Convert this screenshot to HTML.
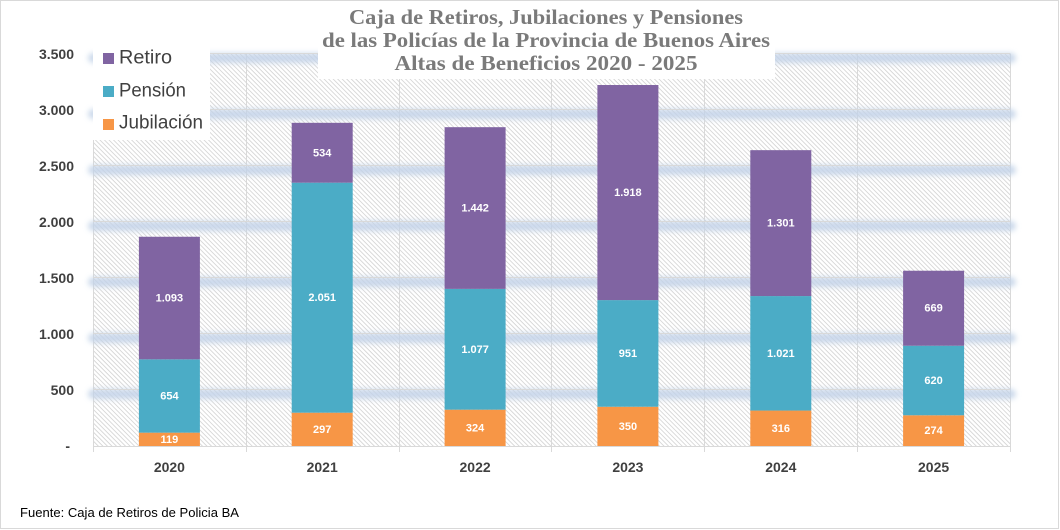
<!DOCTYPE html>
<html><head><meta charset="utf-8"><style>
html,body{margin:0;padding:0;background:#fff;}
svg{display:block;}
</style></head><body>
<svg width="1060" height="530" viewBox="0 0 1060 530" xmlns="http://www.w3.org/2000/svg">
<defs>
<pattern id="hatch" patternUnits="userSpaceOnUse" width="3.2" height="3.2" patternTransform="rotate(-45)">
<rect width="3.2" height="3.2" fill="#fff"/>
<line x1="0.5" y1="0" x2="0.5" y2="3.2" stroke="#d2d2d2" stroke-width="0.8"/>
</pattern>
<filter id="blur" x="-5%" y="-200%" width="110%" height="500%"><feGaussianBlur stdDeviation="2.6"/></filter>
</defs>
<rect x="0" y="0" width="1060" height="530" fill="#fff"/>
<rect x="0.5" y="0.5" width="1058" height="528" fill="none" stroke="#d9d9d9" stroke-width="1"/>
<!-- plot area hatch -->
<rect x="93" y="53.5" width="917" height="392.5" fill="url(#hatch)"/>
<!-- vertical gridlines -->
<g stroke="#d9d9d9" stroke-width="1">
<line x1="93.5" y1="53.5" x2="93.5" y2="452"/>
<line x1="246.5" y1="53.5" x2="246.5" y2="452"/>
<line x1="399.5" y1="53.5" x2="399.5" y2="452"/>
<line x1="551.5" y1="53.5" x2="551.5" y2="452"/>
<line x1="704.5" y1="53.5" x2="704.5" y2="452"/>
<line x1="857.5" y1="53.5" x2="857.5" y2="452"/>
<line x1="1010.5" y1="53.5" x2="1010.5" y2="452"/>
</g>
<!-- glows -->
<g fill="#c3d3e8" filter="url(#blur)" opacity="0.85">
<rect x="88" y="53" width="928" height="10" rx="5"/>
<rect x="88" y="109" width="928" height="10" rx="5"/>
<rect x="88" y="165" width="928" height="10" rx="5"/>
<rect x="88" y="221" width="928" height="10" rx="5"/>
<rect x="88" y="277" width="928" height="10" rx="5"/>
<rect x="88" y="333" width="928" height="10" rx="5"/>
<rect x="88" y="389" width="928" height="10" rx="5"/>
</g>
<g stroke="#d9d9d9" stroke-width="1">
<line x1="93" y1="53.5" x2="1010" y2="53.5"/>
<line x1="93" y1="109.5" x2="1010" y2="109.5"/>
<line x1="93" y1="165.5" x2="1010" y2="165.5"/>
<line x1="93" y1="221.5" x2="1010" y2="221.5"/>
<line x1="93" y1="277.5" x2="1010" y2="277.5"/>
<line x1="93" y1="333.5" x2="1010" y2="333.5"/>
<line x1="93" y1="389.5" x2="1010" y2="389.5"/>
<line x1="93" y1="446.5" x2="1010" y2="446.5"/>
</g>
<!-- bars -->
<g>
<rect x="138.9" y="432.66" width="61" height="13.34" fill="#F79646"/>
<rect x="138.9" y="359.32" width="61" height="73.34" fill="#4BACC6"/>
<rect x="138.9" y="236.75" width="61" height="122.57" fill="#8064A2"/>

<rect x="291.7" y="412.69" width="61" height="33.31" fill="#F79646"/>
<rect x="291.7" y="182.69" width="61" height="230.0" fill="#4BACC6"/>
<rect x="291.7" y="122.81" width="61" height="59.88" fill="#8064A2"/>

<rect x="444.6" y="409.67" width="61" height="36.33" fill="#F79646"/>
<rect x="444.6" y="288.89" width="61" height="120.78" fill="#4BACC6"/>
<rect x="444.6" y="127.18" width="61" height="161.71" fill="#8064A2"/>

<rect x="597.4" y="406.75" width="61" height="39.25" fill="#F79646"/>
<rect x="597.4" y="300.10" width="61" height="106.65" fill="#4BACC6"/>
<rect x="597.4" y="85.01" width="61" height="215.09" fill="#8064A2"/>

<rect x="750.3" y="410.56" width="61" height="35.44" fill="#F79646"/>
<rect x="750.3" y="296.06" width="61" height="114.50" fill="#4BACC6"/>
<rect x="750.3" y="150.16" width="61" height="145.90" fill="#8064A2"/>

<rect x="903.1" y="415.27" width="61" height="30.73" fill="#F79646"/>
<rect x="903.1" y="345.74" width="61" height="69.53" fill="#4BACC6"/>
<rect x="903.1" y="270.72" width="61" height="75.02" fill="#8064A2"/>
</g>
<!-- data labels -->
<g font-family="'Liberation Sans', sans-serif" font-weight="bold" font-size="11" fill="#fff" text-anchor="middle" dominant-baseline="central">
<text x="169.4" y="439.8">119</text>
<text x="169.4" y="396.5">654</text>
<text x="169.4" y="298.5">1.093</text>
<text x="322.2" y="429.8">297</text>
<text x="322.2" y="298.2">2.051</text>
<text x="322.2" y="153.3">534</text>
<text x="475.1" y="428.3">324</text>
<text x="475.1" y="349.8">1.077</text>
<text x="475.1" y="208.5">1.442</text>
<text x="627.9" y="426.9">350</text>
<text x="627.9" y="353.9">951</text>
<text x="627.9" y="193.1">1.918</text>
<text x="780.8" y="428.8">316</text>
<text x="780.8" y="353.8">1.021</text>
<text x="780.8" y="223.6">1.301</text>
<text x="933.6" y="431.1">274</text>
<text x="933.6" y="381.0">620</text>
<text x="933.6" y="308.7">669</text>
</g>
<!-- y labels -->
<g font-family="'Liberation Sans', sans-serif" font-weight="bold" font-size="14" fill="#404040" text-anchor="end" dominant-baseline="central">
<text x="74" y="54">3.500</text>
<text x="74" y="110">3.000</text>
<text x="74" y="166">2.500</text>
<text x="74" y="222">2.000</text>
<text x="74" y="278">1.500</text>
<text x="74" y="334">1.000</text>
<text x="74" y="390">500</text>
<text x="70" y="446">-</text>
</g>
<!-- x labels -->
<g font-family="'Liberation Sans', sans-serif" font-weight="bold" font-size="14" fill="#404040" text-anchor="middle" dominant-baseline="central">
<text x="169.4" y="467">2020</text>
<text x="322.2" y="467">2021</text>
<text x="475.1" y="467">2022</text>
<text x="627.9" y="467">2023</text>
<text x="780.8" y="467">2024</text>
<text x="933.6" y="467">2025</text>
</g>
<!-- title -->
<rect x="318" y="2" width="457" height="77" fill="#fff"/>
<g font-family="'Liberation Serif', serif" font-weight="bold" font-size="21" fill="#7a7a7a" text-anchor="middle">
<text x="546" y="24" textLength="394" lengthAdjust="spacingAndGlyphs">Caja de Retiros, Jubilaciones y Pensiones</text>
<text x="546" y="47" textLength="448" lengthAdjust="spacingAndGlyphs">de las Policías de la Provincia de Buenos Aires</text>
<text x="546" y="70" textLength="303" lengthAdjust="spacingAndGlyphs">Altas de Beneficios 2020  - 2025</text>
</g>
<!-- legend -->
<rect x="93" y="43" width="117" height="97" fill="#fff"/>
<rect x="103" y="53" width="11" height="11" fill="#8064A2"/>
<rect x="103" y="86" width="11" height="11" fill="#4BACC6"/>
<rect x="103" y="119" width="11" height="11" fill="#F79646"/>
<g font-family="'Liberation Sans', sans-serif" font-size="19" fill="#404040" dominant-baseline="central">
<text x="119" y="58" textLength="53" lengthAdjust="spacingAndGlyphs">Retiro</text>
<text x="119" y="91" textLength="67" lengthAdjust="spacingAndGlyphs">Pensión</text>
<text x="119" y="123" textLength="84" lengthAdjust="spacingAndGlyphs">Jubilación</text>
</g>
<!-- footer -->
<text x="20" y="517" font-family="'Liberation Sans', sans-serif" font-size="13" fill="#000" textLength="219" lengthAdjust="spacingAndGlyphs">Fuente: Caja de Retiros de Policia BA</text>
</svg>
</body></html>
